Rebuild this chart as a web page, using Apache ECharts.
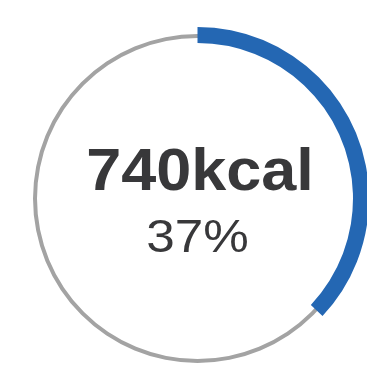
<!DOCTYPE html>
<html><head><meta charset="utf-8">
<script src="https://cdn.jsdelivr.net/npm/echarts@6/dist/echarts.min.js"></script>
<style>html,body{margin:0;padding:0;background:#fff}#c{width:367px;height:372px}</style>
</head><body><div id="c"></div>
<script>
const categories = ['consumed', 'remaining'];
const values = [37, 63];
const centerLabels = ['740kcal', '37%'];

const chart = echarts.init(document.getElementById('c'), null, {renderer: 'canvas'});
const cx = 197.5, cy = 198.5;
chart.setOption({
  animation: false,
  series: [
    {
      type: 'pie', silent: true, center: [cx, cy], radius: [160.5, 164.5],
      label: {show: false}, labelLine: {show: false},
      data: [{name: 'ring', value: 1, itemStyle: {color: '#a3a3a3'}}]
    },
    {
      type: 'pie', silent: true, center: [cx, cy], radius: [155.5, 171.5],
      startAngle: 90, clockwise: true,
      label: {show: false}, labelLine: {show: false},
      data: categories.map((c, i) => ({name: c, value: values[i],
        itemStyle: {color: i === 0 ? '#2467b3' : 'rgba(0,0,0,0)'}}))
    }
  ],
  graphic: [
    {type: 'text', x: 200, y: 173, scaleX: 1.05, style: {text: centerLabels[0], fill: '#38383a',
      font: 'bold 60px "Liberation Sans", Arial, sans-serif', align: 'center', verticalAlign: 'middle'}},
    {type: 'text', x: 197.5, y: 239, scaleX: 1.09, style: {text: centerLabels[1], fill: '#38383a',
      font: '47px "Liberation Sans", Arial, sans-serif', align: 'center', verticalAlign: 'middle'}}
  ]
});
</script></body></html>
